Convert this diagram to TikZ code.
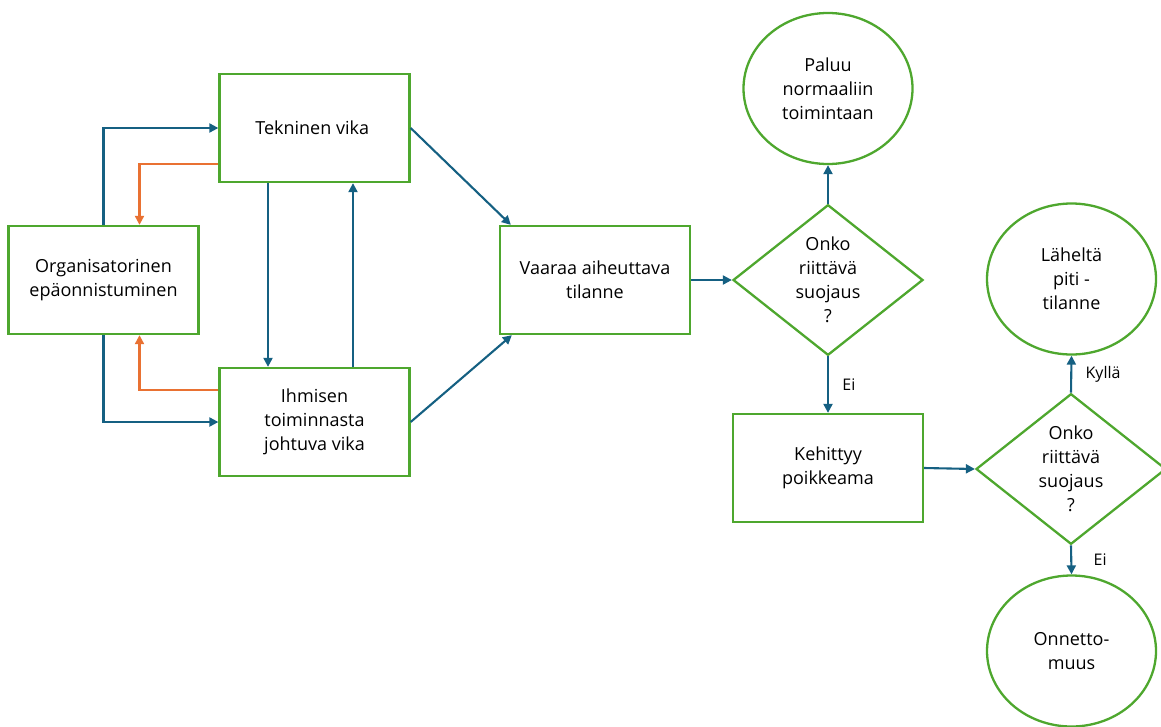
\documentclass[tikz,border=0pt]{standalone}
\usepackage{fontspec}
\setmainfont{Open Sans}
\usetikzlibrary{shapes.geometric,arrows.meta}
\definecolor{boxgreen}{HTML}{4EA72E}
\definecolor{arrowblue}{HTML}{156082}
\definecolor{arroworange}{HTML}{E97132}
\tikzset{
  stepbox/.style={draw=boxgreen, line width=2.3pt, minimum width=190pt, minimum height=108pt, align=center, inner sep=0pt},
  decision/.style={diamond, draw=boxgreen, line width=2.3pt, minimum width=190pt, minimum height=150pt, align=center, inner sep=0pt},
  outcome/.style={ellipse, draw=boxgreen, line width=2.3pt, minimum width=169pt, minimum height=151pt, align=center, inner sep=0pt},
  flow/.style={draw=arrowblue, line width=2.1pt, -{Triangle[length=9pt,width=9pt]}},
  backflow/.style={draw=arroworange, line width=2.1pt, -{Triangle[length=9pt,width=9pt]}},
  answer/.style={font=\fontsize{16}{18}\selectfont, anchor=west}
}
\begin{document}
\begin{tikzpicture}[x=1pt, y=-1pt, font=\fontsize{18}{24}\selectfont]
                \useasboundingbox (0,0) rectangle (1161,726);%

                % Drawing the boxes of the causes
                \node [stepbox] (org) at (103.5,280) { Organisatorinen\\epäonnistuminen };%
                \node [stepbox] (tek) at (314.5,128) { Tekninen vika };%
                \node [stepbox] (ihm) at (314.5,422) { Ihmisen\\toiminnasta\\johtuva vika };%
                \node [stepbox] (vaa) at (595,280) { Vaaraa aiheuttava\\tilanne };%

                % Drawing the first decision and its outcomes
                \node [decision] (suo1) at (828,280) { Onko\\riittävä\\suojaus\\? };%
                \node [outcome] (pal) at (828,88.5) { Paluu\\normaaliin\\toimintaan };%
                \node [stepbox] (keh) at (828,468) { Kehittyy\\poikkeama };%

                % Drawing the second decision and its outcomes
                \node [decision] (suo2) at (1071,469) { Onko\\riittävä\\suojaus\\? };%
                \node [outcome] (lah) at (1071.5,279) { Läheltä\\piti -\\tilanne };%
                \node [outcome] (onn) at (1071.5,651) { Onnetto-\\muus };%

                % Drawing connectors between the causes
                \draw [flow] (org.north) |- (tek.west);%
                \draw [backflow] ([yshift=-36pt]tek.west) -| ([xshift=36pt]org.north);%
                \draw [flow] (org.south) |- (ihm.west);%
                \draw [backflow] ([yshift=32pt]ihm.west) -| ([xshift=36pt]org.south);%
                \draw [flow] ([xshift=-46.5pt]tek.south) -- ([xshift=-46.5pt]ihm.north);%
                \draw [flow] ([xshift=38.5pt]ihm.north) -- ([xshift=38.5pt]tek.south);%
                \draw [flow] (tek.east) -- ([xshift=12pt]vaa.north west);%
                \draw [flow] (ihm.east) -- ([xshift=13pt]vaa.south west);%

                % Drawing connectors of the decisions
                \draw [flow] (vaa.east) -- (suo1.west);%
                \draw [flow] (suo1.north) -- (pal.south);%
                \draw [flow] (suo1.south) -- (keh.north) node [answer, midway, xshift=10pt] { Ei };%
                \draw [flow] (keh.east) -- (suo2.west);%
                \draw [flow] (suo2.north) -- (lah.south) node [answer, midway, xshift=10pt] { Kyllä };%
                \draw [flow] (suo2.south) -- (onn.north) node [answer, midway, xshift=18pt] { Ei };%
                \end{tikzpicture}
\end{document}
